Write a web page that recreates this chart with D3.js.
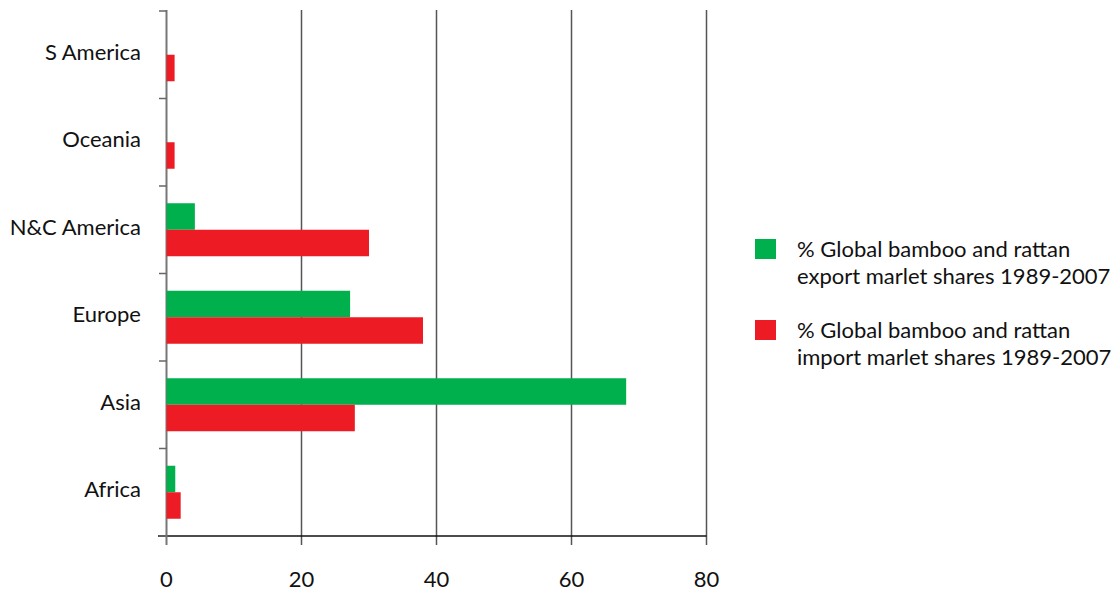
<!DOCTYPE html>
<html><head><meta charset="utf-8">
<script src="https://cdn.jsdelivr.net/npm/d3@7"></script>
<style>body{margin:0;background:#fff;} text{font-family:"Lato",sans-serif;fill:#111;}</style>
</head><body>
<svg id="c" width="1120" height="597"></svg>
<script>
const categories = ["S America","Oceania","N&C America","Europe","Asia","Africa"];
const exportShares = [0, 0, 4.2, 27.2, 68.1, 1.3];
const importShares = [1.2, 1.2, 30, 38, 27.9, 2.1];
const xTicks = [0, 20, 40, 60, 80];
const seriesNames = ["% Global bamboo and rattan export marlet shares 1989-2007",
                     "% Global bamboo and rattan import marlet shares 1989-2007"];
const legendLines = [["% Global bamboo and rattan","export marlet shares 1989-2007"],
                     ["% Global bamboo and rattan","import marlet shares 1989-2007"]];
const colors = ["#00B04D", "#ED1C24"];

const svg = d3.select("#c");
const x = d3.scaleLinear().domain([0, 80]).range([166.5, 706.5]);
const y = d3.scaleBand().domain(categories).range([11, 536]);
const inner = d3.scaleBand().domain([0,1]).range([0, 53]);

svg.append("g").selectAll("line").data(xTicks.slice(1)).join("line")
  .attr("x1", d => x(d)).attr("x2", d => x(d)).attr("y1", 10).attr("y2", 545)
  .attr("stroke", "#555").attr("stroke-width", 1.5);

svg.append("line").attr("x1", 158).attr("x2", x(80)).attr("y1", 536).attr("y2", 536)
  .attr("stroke", "#111").attr("stroke-width", 1.5);

svg.append("line").attr("x1", x(0)).attr("x2", x(0)).attr("y1", 10).attr("y2", 545)
  .attr("stroke", "#777").attr("stroke-width", 2);
const tickYs = categories.map(c => y(c)).concat([y.range()[1]]);
svg.append("g").selectAll("line").data(tickYs).join("line")
  .attr("x1", 159).attr("x2", x(0)).attr("y1", d => d).attr("y2", d => d)
  .attr("stroke", "#666").attr("stroke-width", 1.5);

const groups = svg.append("g").selectAll("g").data(categories).join("g")
  .attr("transform", c => `translate(0,${y(c) + y.bandwidth()/2 - 26.5})`);
[exportShares, importShares].forEach((vals, si) => {
  groups.append("rect")
    .attr("x", x(0))
    .attr("y", inner(si))
    .attr("width", (c, i) => x(vals[i]) - x(0))
    .attr("height", inner.bandwidth())
    .attr("fill", colors[si]);
});

svg.append("g").selectAll("text").data(categories).join("text")
  .attr("x", 141).attr("y", c => y(c) + y.bandwidth()/2 + 5)
  .attr("text-anchor", "end").attr("font-size", 22).text(c => c);

svg.append("g").selectAll("text").data(xTicks).join("text")
  .attr("x", d => x(d)).attr("y", 587).attr("text-anchor", "middle")
  .attr("font-size", 22).text(d => d);

const leg = svg.append("g").selectAll("g").data(seriesNames).join("g")
  .attr("transform", (d, i) => `translate(755,${239 + i * 81})`);
leg.append("rect").attr("width", 21).attr("height", 20).attr("fill", (d, i) => colors[i]);
leg.append("text").attr("font-size", 22)
  .selectAll("tspan").data((d, i) => legendLines[i]).join("tspan")
  .attr("x", 42).attr("y", (d, j) => 18 + j * 27).text(d => d);
</script>
</body></html>
